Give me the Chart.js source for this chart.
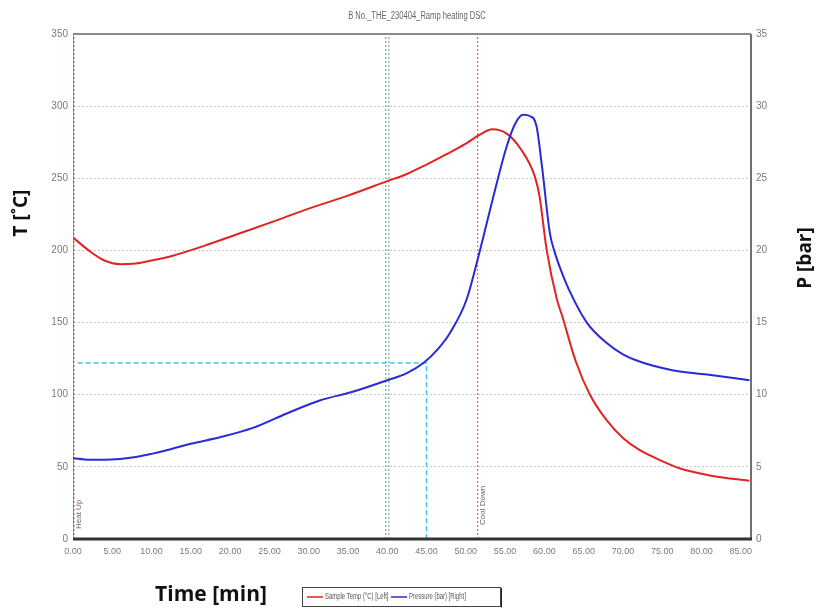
<!DOCTYPE html>
<html>
<head>
<meta charset="utf-8">
<script src="https://cdn.jsdelivr.net/npm/chart.js@4.4.1/dist/chart.umd.min.js"></script>
<style>
  html, body { margin: 0; padding: 0; background: #fff; }
  #wrap { position: relative; width: 824px; height: 609px; }
  canvas { display: block; }
</style>
</head>
<body>
<div id="wrap"><canvas id="c" width="824" height="609"></canvas></div>
<script>
// ---- Data ----
const chartTitle = "B No._THE_230404_Ramp heating DSC";
const tempLabel = "Sample Temp (°C) [Left]";
const presLabel = "Pressure (bar) [Right]";

const tempTime = [0, 2, 4, 6, 8, 10, 12.5, 16.6, 20.8, 26, 30, 35, 40, 42.5, 45, 47.5, 50, 51.7, 53.4, 55.2, 56.9, 58.8, 59.4, 60.3, 61.6, 62.3, 64, 65.8, 67.9, 70, 72.1, 75, 77.2, 81.4, 86.1];
const tempVal  = [209, 200, 193, 190.5, 191, 193, 196, 203, 211, 221, 229, 238, 248, 253, 259.5, 266.5, 274, 280, 284, 281, 271, 251, 237, 200, 166, 154, 123, 100, 82.5, 70, 61.7, 54, 49, 43.7, 40.4];

const presTime = [0, 2, 4, 6, 8, 10, 12.3, 15, 18.7, 22.9, 27.2, 31.4, 35.6, 40, 42.5, 44.6, 46.5, 48, 50.1, 51.8, 53.4, 55.2, 56.3, 57.3, 58.2, 59, 59.7, 60.7, 61.3, 62.2, 63.2, 65.4, 67.9, 70, 72.1, 76.3, 80.7, 86.1];
const presVal  = [5.6, 5.5, 5.5, 5.55, 5.68, 5.9, 6.2, 6.6, 7.05, 7.7, 8.7, 9.6, 10.2, 11.0, 11.5, 12.2, 13.2, 14.3, 16.6, 20.0, 23.5, 27.2, 28.8, 29.4, 29.3, 28.6, 25.8, 21.2, 19.9, 18.5, 17.2, 15.0, 13.6, 12.8, 12.3, 11.7, 11.4, 11.0];

// Event markers (time in min)
const heatUpTime = 0.1;
const coolDownTime = 51.5;
const greenMarkerTimes = [39.8, 40.2];
// Cursor crosshair (time, temperature)
const cursorTime = 45;
const cursorTemp = 122;
const cursorStartTime = 0.6;

// Axis ranges / ticks
const xMax = 86.3, xStep = 5;
const tMax = 350, tStep = 50;
const pMax = 35, pStep = 5;

const toXY = (xs, ys) => xs.map((x, i) => ({x: x, y: ys[i]}));

const tickFont = {family: "'Liberation Sans Narrow', 'Arial Narrow', 'Liberation Sans', sans-serif", size: 10};
const tickColor = '#7a7a7a';

const datasets = [
  { label: tempLabel, data: toXY(tempTime, tempVal), yAxisID: 'y', borderColor: '#e02424', borderWidth: 2, pointRadius: 0, cubicInterpolationMode: 'monotone', order: 1 },
  { label: presLabel, data: toXY(presTime, presVal), yAxisID: 'y1', borderColor: '#2a2ad6', borderWidth: 2, pointRadius: 0, cubicInterpolationMode: 'monotone', order: 0 },
  { label: 'heat', marker: true, data: [{x: heatUpTime, y: 0}, {x: heatUpTime, y: tMax}], yAxisID: 'y', borderColor: '#b05a5a', borderWidth: 1.3, borderDash: [2, 2], pointRadius: 0, order: 5 },
  { label: 'cool', marker: true, data: [{x: coolDownTime, y: 0}, {x: coolDownTime, y: tMax}], yAxisID: 'y', borderColor: '#e86a6a', borderWidth: 1.3, borderDash: [2, 2], pointRadius: 0, order: 5 },
  ...greenMarkerTimes.map(t => ({ label: 'g', marker: true, data: [{x: t, y: 0}, {x: t, y: tMax}], yAxisID: 'y', borderColor: '#7fba7f', borderWidth: 1.3, borderDash: [2, 2], pointRadius: 0, order: 5 })),
  { label: 'cursor', marker: true, data: [{x: cursorStartTime, y: cursorTemp}, {x: cursorTime, y: cursorTemp}, {x: cursorTime, y: 0}], yAxisID: 'y', borderColor: '#3cc8ee', borderWidth: 1.5, borderDash: [5, 3], pointRadius: 0, order: 4 }
];

function narrowText(ctx, text, x, y, sx) {
  ctx.save(); ctx.translate(x, y); ctx.scale(sx, 1); ctx.fillText(text, 0, 0); ctx.restore();
}

const decor = {
  id: 'decor',
  afterDraw(chart) {
    const ctx = chart.ctx;
    const a = chart.chartArea;
    const xs = chart.scales.x;
    ctx.save();
    // frame
    ctx.strokeStyle = '#8a8a8a'; ctx.lineWidth = 2;
    ctx.beginPath(); ctx.moveTo(a.left, a.top); ctx.lineTo(a.right, a.top); ctx.stroke();
    ctx.strokeStyle = '#707070'; ctx.lineWidth = 2;
    ctx.beginPath(); ctx.moveTo(a.right, a.top); ctx.lineTo(a.right, a.bottom); ctx.stroke();
    ctx.strokeStyle = '#333'; ctx.lineWidth = 3;
    ctx.beginPath(); ctx.moveTo(a.left, a.bottom); ctx.lineTo(a.right + 1, a.bottom); ctx.stroke();
    // title
    ctx.fillStyle = '#666';
    ctx.font = "10px 'Liberation Sans', sans-serif";
    ctx.textAlign = 'center'; ctx.textBaseline = 'middle';
    narrowText(ctx, chartTitle, 417, 16, 0.76);
    // axis titles
    ctx.fillStyle = '#111';
    ctx.font = "bold 19px 'Open Sans', sans-serif";
    ctx.save(); ctx.translate(22, 213); ctx.rotate(-Math.PI / 2); ctx.fillText('T [˚C]', 0, 0); ctx.restore();
    ctx.save(); ctx.translate(806, 258); ctx.rotate(-Math.PI / 2); ctx.fillText('P [bar]', 0, 0); ctx.restore();
    ctx.font = "bold 21px 'Open Sans', sans-serif";
    ctx.fillText('Time [min]', 211, 595);
    // marker labels
    ctx.fillStyle = '#666';
    ctx.font = "8px 'Liberation Sans', sans-serif";
    ctx.textAlign = 'left';
    ctx.save(); ctx.translate(xs.getPixelForValue(heatUpTime) + 5, a.bottom - 10); ctx.rotate(-Math.PI / 2); ctx.fillText('Heat Up', 0, 0); ctx.restore();
    ctx.save(); ctx.translate(xs.getPixelForValue(coolDownTime) + 5, a.bottom - 14); ctx.rotate(-Math.PI / 2); ctx.fillText('Cool Down', 0, 0); ctx.restore();
    // legend box
    ctx.fillStyle = '#fff';
    ctx.fillRect(302.5, 587.5, 198, 19);
    ctx.strokeStyle = '#444'; ctx.lineWidth = 1;
    ctx.strokeRect(302.5, 587.5, 198, 19);
    ctx.strokeStyle = '#222';
    ctx.beginPath(); ctx.moveTo(501.5, 588); ctx.lineTo(501.5, 607.5); ctx.stroke();
    ctx.lineWidth = 1.5;
    ctx.strokeStyle = '#e02424';
    ctx.beginPath(); ctx.moveTo(307, 597); ctx.lineTo(323, 597); ctx.stroke();
    ctx.strokeStyle = '#2a2ad6';
    ctx.beginPath(); ctx.moveTo(391, 597); ctx.lineTo(407, 597); ctx.stroke();
    ctx.fillStyle = '#555';
    ctx.font = "9px 'Liberation Sans', sans-serif";
    ctx.textBaseline = 'middle';
    narrowText(ctx, tempLabel, 325, 597, 0.66);
    narrowText(ctx, presLabel, 409, 597, 0.66);
    ctx.restore();
  }
};

new Chart(document.getElementById('c'), {
  type: 'line',
  data: { datasets: datasets },
  options: {
    responsive: false,
    animation: false,
    events: [],
    layout: { padding: { top: 34, left: 0, right: 0, bottom: 0 } },
    plugins: { legend: { display: false }, tooltip: { enabled: false }, title: { display: false } },
    scales: {
      x: {
        type: 'linear', min: 0, max: xMax,
        afterFit: s => { s.height = 70; },
        ticks: { stepSize: xStep, includeBounds: false, font: {family: tickFont.family, size: 9}, color: tickColor, padding: 7, maxRotation: 0, callback: v => Number(v).toFixed(2) },
        grid: { display: false, drawTicks: false },
        border: { display: false }
      },
      y: {
        type: 'linear', position: 'left', min: 0, max: tMax,
        afterFit: s => { s.width = 73; },
        ticks: { stepSize: tStep, font: tickFont, color: tickColor, padding: 5 },
        grid: { color: '#c8c8c8', lineWidth: 1, drawTicks: false },
        border: { display: true, color: '#999', width: 1, dash: [2, 2] }
      },
      y1: {
        type: 'linear', position: 'right', min: 0, max: pMax,
        afterFit: s => { s.width = 73; },
        ticks: { stepSize: pStep, font: tickFont, color: tickColor, padding: 5 },
        grid: { drawOnChartArea: false, drawTicks: false },
        border: { display: false }
      }
    }
  },
  plugins: [decor]
});
</script>
</body>
</html>
